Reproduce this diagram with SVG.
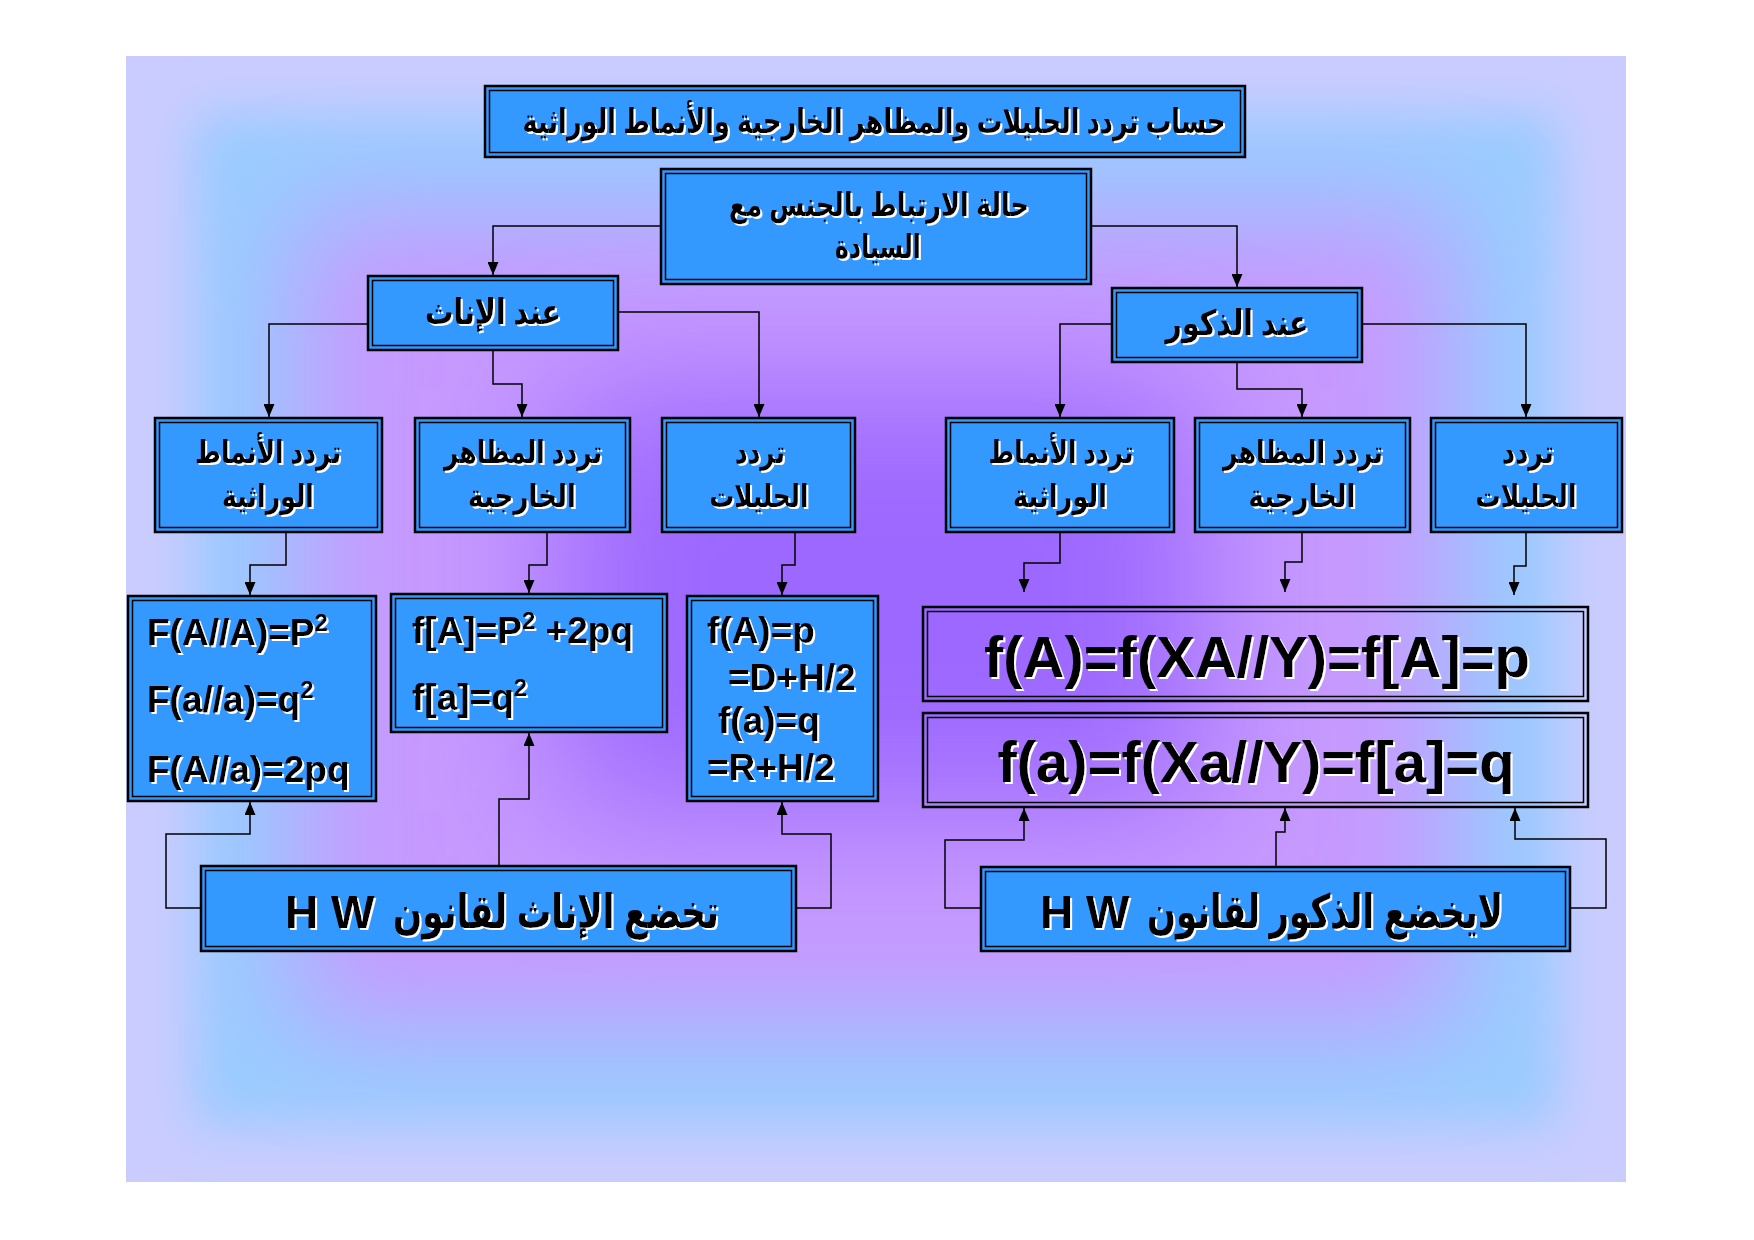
<svg xmlns="http://www.w3.org/2000/svg" width="1754" height="1240" viewBox="0 0 1754 1240">
<style>
.box{fill:#3399FF;stroke:#000;stroke-width:2.5}
.tbox{fill:none;stroke:#000;stroke-width:2.5}
.in{fill:none;stroke:#000;stroke-width:1.5}
.t{font-family:"Liberation Sans","DejaVu Sans",sans-serif;font-weight:bold;fill:#000;filter:url(#sh)}
.ar{direction:rtl;text-anchor:middle}
.conn path{fill:none;stroke:#000;stroke-width:1.5;marker-end:url(#ah)}
</style>
<defs>
<marker id="ah" markerUnits="userSpaceOnUse" markerWidth="13" markerHeight="11" viewBox="0 0 13 11" refX="13" refY="5.5" orient="auto">
<path d="M0,0 L13,5.5 L0,11 z" fill="#000"/>
</marker>
<filter id="sh" x="-5%" y="-20%" width="110%" height="140%">
<feOffset in="SourceAlpha" dx="2" dy="2" result="o"/>
<feFlood flood-color="#fff"/>
<feComposite in2="o" operator="in" result="w"/>
<feMerge><feMergeNode in="w"/><feMergeNode in="SourceGraphic"/></feMerge>
</filter>
<clipPath id="bgc"><rect x="126" y="56" width="1500" height="1126"/></clipPath>
<filter id="b1" x="-20%" y="-20%" width="140%" height="140%"><feGaussianBlur stdDeviation="25"/></filter>
<filter id="b2" x="-30%" y="-30%" width="160%" height="160%"><feGaussianBlur stdDeviation="55"/></filter>
<filter id="b3" x="-40%" y="-40%" width="180%" height="180%"><feGaussianBlur stdDeviation="70"/></filter>
</defs>

<g id="background" clip-path="url(#bgc)">
<rect x="126" y="56" width="1500" height="1126" fill="#CACCFF"/>
<rect x="195" y="115" width="1362" height="1010" fill="#99CCFF" filter="url(#b1)"/>
<rect x="300" y="215" width="1150" height="810" fill="#C69AFF" filter="url(#b2)"/>
<rect x="560" y="390" width="640" height="420" fill="#9C68FF" filter="url(#b3)"/>
</g>

<g id="connectors" class="conn">
<path d="M660,226 H493 V275"/>
<path d="M1092,226 H1237 V287"/>
<path d="M367,324 H269 V417"/>
<path d="M493,351 V384 H522 V417"/>
<path d="M619,312 H759 V417"/>
<path d="M1111,324 H1060 V417"/>
<path d="M1237,363 V389 H1302 V417"/>
<path d="M1363,324 H1526 V417"/>
<path d="M286,533 V565 H250 V595"/>
<path d="M547,533 V565 H529 V593"/>
<path d="M795,533 V565 H782 V595"/>
<path d="M1060,533 V563 H1024 V592"/>
<path d="M1302,533 V562 H1285 V592"/>
<path d="M1526,533 V566 H1514 V595"/>
<path d="M200,908 H166 V834 H250 V802"/>
<path d="M499,865 V799 H529 V733"/>
<path d="M797,908 H831 V834 H782 V802"/>
<path d="M980,908 H945 V840 H1024 V808"/>
<path d="M1276,866 V832 H1285 V808"/>
<path d="M1571,908 H1606 V839 H1515 V808"/>
</g>

<g id="title">
<rect class="box" x="485" y="86" width="760" height="71"/>
<rect class="in" x="489.5" y="90.5" width="751" height="62"/>
<text class="t ar" x="874" y="133" font-size="34" textLength="703" lengthAdjust="spacingAndGlyphs">حساب تردد الحليلات والمظاهر الخارجية والأنماط الوراثية</text>
</g>

<g id="sexlinked">
<rect class="box" x="661" y="169" width="430" height="115"/>
<rect class="in" x="665.5" y="173.5" width="421" height="106"/>
<text class="t ar" x="879" y="216" font-size="33" textLength="300" lengthAdjust="spacingAndGlyphs">حالة الارتباط بالجنس مع</text>
<text class="t ar" x="878" y="258" font-size="33" textLength="86" lengthAdjust="spacingAndGlyphs">السيادة</text>
</g>

<g id="females">
<rect class="box" x="368" y="276" width="250" height="74"/>
<rect class="in" x="372.5" y="280.5" width="241" height="65"/>
<text class="t ar" x="493" y="324" font-size="35" textLength="136" lengthAdjust="spacingAndGlyphs">عند الإناث</text>
</g>

<g id="males">
<rect class="box" x="1112" y="288" width="250" height="74"/>
<rect class="in" x="1116.5" y="292.5" width="241" height="65"/>
<text class="t ar" x="1237" y="335" font-size="35" textLength="143" lengthAdjust="spacingAndGlyphs">عند الذكور</text>
</g>

<g id="f-genotypes">
<rect class="box" x="155" y="418" width="227" height="114"/>
<rect class="in" x="159.5" y="422.5" width="218" height="105"/>
<text class="t ar" x="268" y="463" font-size="32" textLength="146" lengthAdjust="spacingAndGlyphs">تردد الأنماط</text>
<text class="t ar" x="268" y="507" font-size="32" textLength="92" lengthAdjust="spacingAndGlyphs">الوراثية</text>
</g>

<g id="f-phenotypes">
<rect class="box" x="415" y="418" width="215" height="114"/>
<rect class="in" x="419.5" y="422.5" width="206" height="105"/>
<text class="t ar" x="523" y="463" font-size="32" textLength="158" lengthAdjust="spacingAndGlyphs">تردد المظاهر</text>
<text class="t ar" x="522" y="507" font-size="32" textLength="108" lengthAdjust="spacingAndGlyphs">الخارجية</text>
</g>

<g id="f-alleles">
<rect class="box" x="662" y="418" width="193" height="114"/>
<rect class="in" x="666.5" y="422.5" width="184" height="105"/>
<text class="t ar" x="760" y="463" font-size="32" textLength="50" lengthAdjust="spacingAndGlyphs">تردد</text>
<text class="t ar" x="759" y="507" font-size="32" textLength="99" lengthAdjust="spacingAndGlyphs">الحليلات</text>
</g>

<g id="m-genotypes">
<rect class="box" x="946" y="418" width="228" height="114"/>
<rect class="in" x="950.5" y="422.5" width="219" height="105"/>
<text class="t ar" x="1061" y="463" font-size="32" textLength="145" lengthAdjust="spacingAndGlyphs">تردد الأنماط</text>
<text class="t ar" x="1060" y="507" font-size="32" textLength="94" lengthAdjust="spacingAndGlyphs">الوراثية</text>
</g>

<g id="m-phenotypes">
<rect class="box" x="1195" y="418" width="215" height="114"/>
<rect class="in" x="1199.5" y="422.5" width="206" height="105"/>
<text class="t ar" x="1303" y="463" font-size="32" textLength="160" lengthAdjust="spacingAndGlyphs">تردد المظاهر</text>
<text class="t ar" x="1302" y="507" font-size="32" textLength="107" lengthAdjust="spacingAndGlyphs">الخارجية</text>
</g>

<g id="m-alleles">
<rect class="box" x="1431" y="418" width="191" height="114"/>
<rect class="in" x="1435.5" y="422.5" width="182" height="105"/>
<text class="t ar" x="1528" y="463" font-size="32" textLength="52" lengthAdjust="spacingAndGlyphs">تردد</text>
<text class="t ar" x="1526" y="507" font-size="32" textLength="101" lengthAdjust="spacingAndGlyphs">الحليلات</text>
</g>

<g id="f-genotype-formulas">
<rect class="box" x="128" y="596" width="248" height="205"/>
<rect class="in" x="132.5" y="600.5" width="239" height="196"/>
<text class="t" x="147" y="645" font-size="37">F(A//A)=P<tspan font-size="24" dy="-14">2</tspan></text>
<text class="t" x="147" y="712" font-size="37">F(a//a)=q<tspan font-size="24" dy="-14">2</tspan></text>
<text class="t" x="147" y="782" font-size="37">F(A//a)=2pq</text>
</g>

<g id="f-phenotype-formulas">
<rect class="box" x="391" y="594" width="276" height="138"/>
<rect class="in" x="395.5" y="598.5" width="267" height="129"/>
<text class="t" x="412" y="643" font-size="37">f[A]=P<tspan font-size="24" dy="-14">2</tspan><tspan dy="14"> +2pq</tspan></text>
<text class="t" x="412" y="710" font-size="37">f[a]=q<tspan font-size="24" dy="-14">2</tspan></text>
</g>

<g id="f-allele-formulas">
<rect class="box" x="687" y="596" width="191" height="205"/>
<rect class="in" x="691.5" y="600.5" width="182" height="196"/>
<text class="t" x="707" y="643" font-size="37">f(A)=p</text>
<text class="t" x="728" y="690" font-size="37">=D+H/2</text>
<text class="t" x="718" y="733" font-size="37">f(a)=q</text>
<text class="t" x="707" y="780" font-size="37">=R+H/2</text>
</g>

<g id="m-formula-A">
<rect class="tbox" x="923" y="607" width="665" height="94"/>
<rect class="in" x="927.5" y="611.5" width="656" height="85"/>
<text class="t" x="1257" y="677" font-size="58" text-anchor="middle">f(A)=f(XA//Y)=f[A]=p</text>
</g>

<g id="m-formula-a">
<rect class="tbox" x="923" y="713" width="665" height="94"/>
<rect class="in" x="927.5" y="717.5" width="656" height="85"/>
<text class="t" x="1256" y="782" font-size="58" text-anchor="middle">f(a)=f(Xa//Y)=f[a]=q</text>
</g>

<g id="f-hw">
<rect class="box" x="201" y="866" width="595" height="85"/>
<rect class="in" x="205.5" y="870.5" width="586" height="76"/>
<text class="t ar" x="556" y="928" font-size="47" textLength="326" lengthAdjust="spacingAndGlyphs">تخضع الإناث لقانون</text>
<text class="t" x="285" y="928" font-size="46">H W</text>
</g>

<g id="m-hw">
<rect class="box" x="981" y="867" width="589" height="84"/>
<rect class="in" x="985.5" y="871.5" width="580" height="75"/>
<text class="t ar" x="1325" y="928" font-size="47" textLength="356" lengthAdjust="spacingAndGlyphs">لايخضع الذكور لقانون</text>
<text class="t" x="1040" y="928" font-size="46">H W</text>
</g>
</svg>
